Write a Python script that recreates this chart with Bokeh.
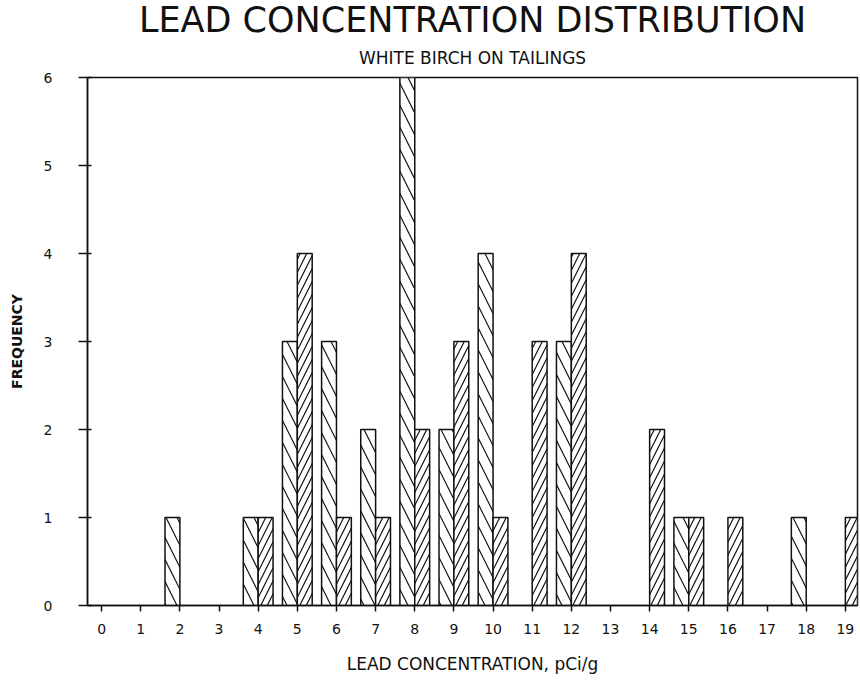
from bokeh.plotting import figure
from bokeh.models import ColumnDataSource, FixedTicker, Title
from bokeh.transform import dodge
from bokeh.embed import file_html
from bokeh.resources import INLINE

# Counts per half-bin: lower half sits left of each tick, upper half right of it
low_half_x = [2, 4, 5, 6, 7, 8, 9, 10, 12, 15, 18]
low_half_count = [1, 1, 3, 3, 2, 6, 2, 4, 3, 1, 1]
high_half_x = [4, 5, 6, 7, 8, 9, 10, 11, 12, 14, 15, 16, 19]
high_half_count = [1, 4, 1, 1, 2, 3, 1, 3, 4, 2, 1, 1, 1]

x_ticks = list(range(0, 20))
y_ticks = list(range(0, 7))

BAR_W = 0.38
FONT = "DejaVu Sans"
INK = "#111111"

p = figure(
    width=860, height=682,
    x_range=(-0.36, 19.31), y_range=(0, 6),
    output_backend="svg", toolbar_location=None,
    min_border_left=87, min_border_right=3, min_border_bottom=77, min_border_top=77,
    background_fill_color="white", border_fill_color="white",
)

low_src = ColumnDataSource(dict(x=low_half_x, count=low_half_count))
high_src = ColumnDataSource(dict(x=high_half_x, count=high_half_count))

p.vbar(x=dodge("x", -BAR_W / 2, range=p.x_range), top="count", bottom=0, width=BAR_W,
       source=low_src, fill_color="white", line_color=INK, line_width=1.5,
       hatch_pattern="\\", hatch_color=INK, hatch_scale=22, hatch_weight=1.2)
p.vbar(x=dodge("x", BAR_W / 2, range=p.x_range), top="count", bottom=0, width=BAR_W,
       source=high_src, fill_color="white", line_color=INK, line_width=1.5,
       hatch_pattern="/", hatch_color=INK, hatch_scale=13, hatch_weight=1.2)

# headings: the subtitle is added first so it sits next to the frame
p.add_layout(Title(text="WHITE BIRCH ON TAILINGS", align="center", text_font=FONT,
                   text_font_size="17px", text_font_style="normal", text_color=INK,
                   standoff=19), "above")
p.add_layout(Title(text="LEAD CONCENTRATION DISTRIBUTION", align="center", text_font=FONT,
                   text_font_size="35px", text_font_style="normal", text_color=INK,
                   standoff=-7), "above")

p.xgrid.visible = False
p.ygrid.visible = False
p.outline_line_color = INK
p.outline_line_width = 1.5

xa = p.xaxis[0]
xa.ticker = FixedTicker(ticks=x_ticks)
xa.axis_label = "LEAD CONCENTRATION, pCi/g"
xa.axis_label_text_font = FONT
xa.axis_label_text_font_size = "17px"
xa.axis_label_text_font_style = "normal"
xa.axis_label_text_color = INK
xa.axis_label_standoff = 17
xa.major_label_text_font = FONT
xa.major_label_text_font_size = "14px"
xa.major_label_text_color = INK
xa.major_label_standoff = 12
xa.major_tick_out = 6
xa.major_tick_in = 0
xa.minor_tick_out = 0
xa.minor_tick_in = 0
xa.axis_line_width = 1.5
xa.axis_line_color = INK
xa.major_tick_line_width = 1.5
xa.major_tick_line_color = INK

ya = p.yaxis[0]
ya.ticker = FixedTicker(ticks=y_ticks)
ya.axis_label = "FREQUENCY"
ya.axis_label_text_font = FONT
ya.axis_label_text_font_size = "14px"
ya.axis_label_text_font_style = "bold"
ya.axis_label_text_color = INK
ya.axis_label_standoff = 16
ya.major_label_text_font = FONT
ya.major_label_text_font_size = "14px"
ya.major_label_text_color = INK
ya.major_label_standoff = 26
ya.major_label_orientation = "horizontal"
ya.major_tick_out = 9
ya.major_tick_in = 4
ya.minor_tick_out = 0
ya.minor_tick_in = 0
ya.axis_line_width = 1.5
ya.axis_line_color = INK
ya.major_tick_line_width = 1.5
ya.major_tick_line_color = INK

open("out.html", "w").write(file_html(p, INLINE))
